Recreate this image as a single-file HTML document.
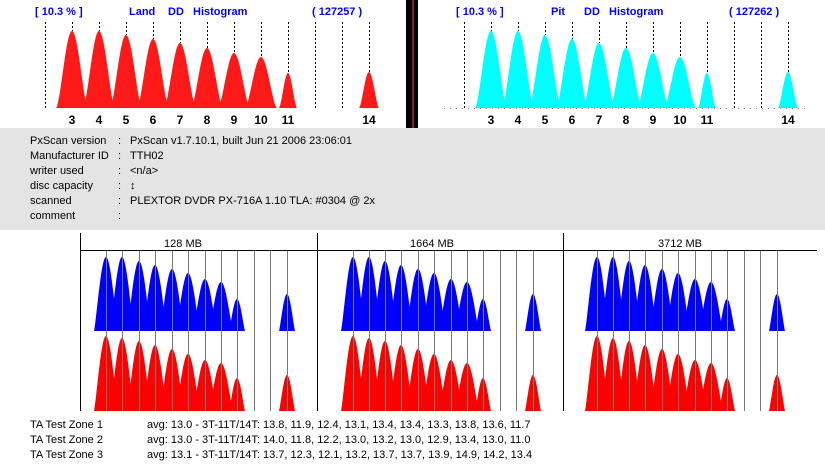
<!DOCTYPE html>
<html><head><meta charset="utf-8"><style>
body{margin:0;background:#fff;width:825px;height:466px;overflow:hidden;font-family:"Liberation Sans",sans-serif}
svg{position:absolute;left:0;top:0}
</style></head><body>
<svg id="s" width="825" height="466" xmlns="http://www.w3.org/2000/svg">
<rect x="0" y="128" width="825" height="102" fill="#e4e4e4"/>
<rect x="406" y="0" width="12" height="128" fill="#000"/>
<rect x="412" y="0" width="2" height="128" fill="#8a2020"/>
<g font-family="Liberation Sans, sans-serif" font-weight="bold" font-size="11" fill="#0000ff">
<text x="35" y="15">[ 10.3 % ]</text><text x="129" y="15">Land</text><text x="168" y="15">DD</text><text x="193" y="15">Histogram</text><text x="312" y="15">( 127257 )</text>
<text x="456" y="15">[ 10.3 % ]</text><text x="551" y="15">Pit</text><text x="584" y="15">DD</text><text x="609" y="15">Histogram</text><text x="729" y="15">( 127262 )</text>
</g>
<g id="g"></g>
<g font-size="11" fill="#000">
<text x="30" y="144">PxScan version</text><text x="118" y="144">:</text><text x="130" y="144">PxScan v1.7.10.1, built Jun 21 2006 23:06:01</text>
<text x="30" y="159">Manufacturer ID</text><text x="118" y="159">:</text><text x="130" y="159">TTH02</text>
<text x="30" y="174">writer used</text><text x="118" y="174">:</text><text x="130" y="174">&lt;n/a&gt;</text>
<text x="30" y="189">disc capacity</text><text x="118" y="189">:</text><text x="130" y="189">↕</text>
<text x="30" y="204">scanned</text><text x="118" y="204">:</text><text x="130" y="204">PLEXTOR DVDR PX-716A 1.10 TLA: #0304 @ 2x</text>
<text x="30" y="219">comment</text><text x="118" y="219">:</text>
<text x="30" y="428">TA Test Zone 1</text><text x="147" y="428">avg: 13.0 - 3T-11T/14T: 13.8, 11.9, 12.4, 13.1, 13.4, 13.4, 13.3, 13.8, 13.6, 11.7</text>
<text x="30" y="443">TA Test Zone 2</text><text x="147" y="443">avg: 13.0 - 3T-11T/14T: 14.0, 11.8, 12.2, 13.0, 13.2, 13.0, 12.9, 13.4, 13.0, 11.0</text>
<text x="30" y="458">TA Test Zone 3</text><text x="147" y="458">avg: 13.1 - 3T-11T/14T: 13.7, 12.3, 12.1, 13.2, 13.7, 13.7, 13.9, 14.9, 14.2, 13.4</text>
<text x="183" y="247" text-anchor="middle">128 MB</text>
<text x="432" y="247" text-anchor="middle">1664 MB</text>
<text x="680" y="247" text-anchor="middle">3712 MB</text>
</g>
</svg>
<script>
var g=document.getElementById('g'),h='';
function peak(cx,top,base,hw,col,ex){var d='M'+(cx-hw)+' '+base;for(var x=-hw;x<=hw;x+=0.5){var t=x/hw;var f=Math.pow(Math.cos(t*Math.PI/2),ex||1.6);var y=base-(base-top)*f;d+=' L'+(cx+x)+' '+y.toFixed(1);}d+=' L'+(cx+hw)+' '+base+'Z';h+='<path d="'+d+'" fill="'+col+'"/>';}
var labs=['3','4','5','6','7','8','9','10','11','','','14'];
[[45,'#ff1a1a'],[464,'#00ffff']].forEach(function(p){var x0=p[0],base=108;
 var tops=[31,31,35,39,43,48,53,57,73,null,null,72];
 if(p[0]>400){h+='<line x1="444" y1="108.5" x2="808" y2="108.5" stroke="#888" stroke-dasharray="1,5"/>';}
 for(var i=0;i<12;i++){if(tops[i]){peak(x0+27*(i+1),tops[i],base,i<8?16:i==8?9:10,p[1]);}}
 for(var i=0;i<13;i++){var x=x0+i*27;h+='<line x1="'+(x+.5)+'" y1="22" x2="'+(x+.5)+'" y2="'+(i>=1&&i<=9||i==12?[0,31,31,35,39,43,48,53,57,73,0,0,72][i]:base)+'" stroke="#000" stroke-dasharray="2,2"/>';}
 for(i=0;i<12;i++){if(labs[i])h+='<text x="'+(x0+27*(i+1))+'" y="124" text-anchor="middle" font-weight="bold" font-size="12">'+labs[i]+'</text>';}
});
h+='<line x1="80" y1="250.5" x2="817" y2="250.5" stroke="#000"/>';
[80,317,563].forEach(function(px){h+='<line x1="'+(px+.5)+'" y1="233" x2="'+(px+.5)+'" y2="411" stroke="#000"/>';});
[[80,[26,42,59,75,92,108,125,141,157,174,190,207]],[317,[36,52,68,84,101,117,134,150,166,183,199,216]],[563,[34,50,66,82,99,115,132,148,164,181,197,214]]].forEach(function(p){
 var bt=[257,257,261,265,269,273,279,282,299,null,null,294],rt=[336,338,341,345,349,354,360,363,378,null,null,375];
 for(var i=0;i<12;i++){var x=p[0]+p[1][i];if(bt[i]){peak(x,bt[i],331,i<8?12:8,'#0000ff',1.2);peak(x,rt[i],411,i<8?12:8,'#ff0000',1.2);}}
 for(i=0;i<12;i++){var x=p[0]+p[1][i]+.5;h+='<line x1="'+x+'" y1="251" x2="'+x+'" y2="411" stroke="#777"/>';}
});
g.innerHTML=h;
</script>
</body></html>
